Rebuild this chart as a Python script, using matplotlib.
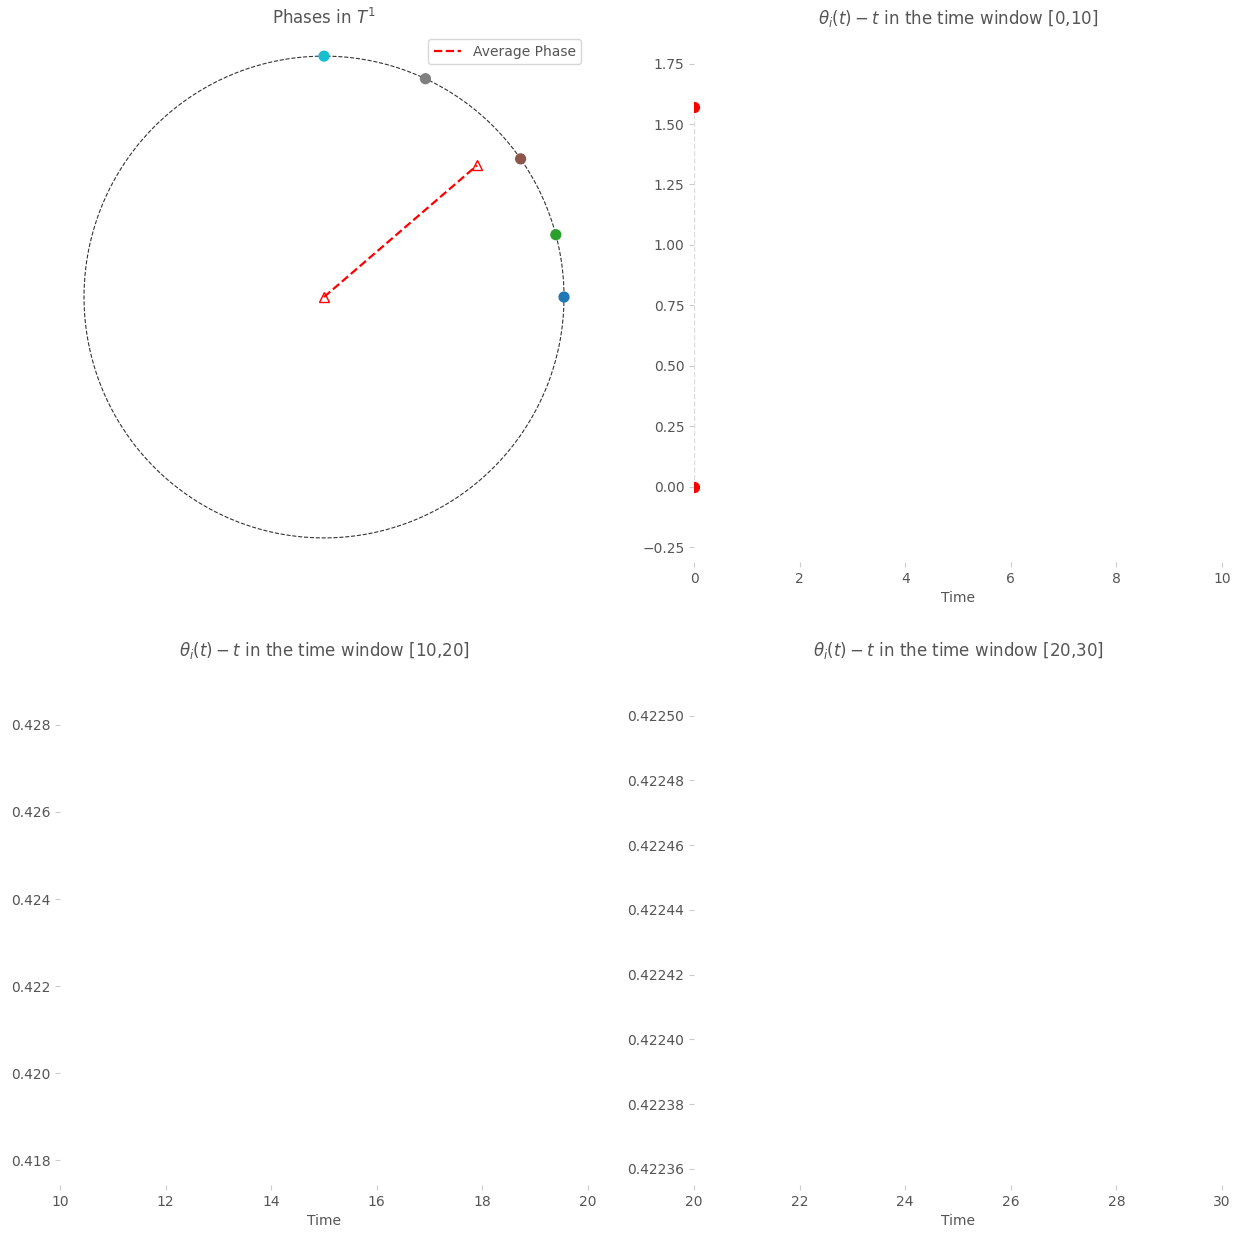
import numpy as np
import matplotlib.pyplot as plt

# phases of the five oscillators (radians) and their colours
phases = np.deg2rad([0, 15, 35, 65, 90])
phase_colors = ["#1f77b4", "#2ca02c", "#8c564b", "#7f7f7f", "#17becf"]
avg_angle = np.deg2rad(40.6)
avg_radius = 0.84

# first window: initial values at t=0
t0_times = [0, 0]
t0_values = [0.0, 1.5708]

windows = [(0, 10), (10, 20), (20, 30)]
ylims = [(-0.31, 1.88), (0.41743, 0.4294), (0.422355, 0.422516)]

txt = "#555555"
plt.rcParams.update({"text.color": txt, "axes.labelcolor": txt,
                     "xtick.color": "#cccccc", "ytick.color": "#cccccc",
                     "xtick.labelcolor": txt, "ytick.labelcolor": txt,
                     "font.size": 10})

fig = plt.figure(figsize=(12.4, 12.42), dpi=100)
L, R, W = 0.0484, 0.5597, 0.4258
top_b, top_h = 0.5475, 0.4267
bot_b, bot_h = 0.0459, 0.4195

# circle panel
ax = fig.add_axes([L, top_b, W, top_h])
th = np.linspace(0, 2 * np.pi, 400)
ax.plot(np.cos(th), np.sin(th), "k--", lw=0.8, alpha=0.8)
ax.scatter(np.cos(phases), np.sin(phases), c=phase_colors, s=50, zorder=3)
ax.plot([0, avg_radius * np.cos(avg_angle)], [0, avg_radius * np.sin(avg_angle)],
        "r--", lw=1.6, label="Average Phase")
ax.plot([0, avg_radius * np.cos(avg_angle)], [0, avg_radius * np.sin(avg_angle)],
        "r^", mfc="none", ms=7, ls="none")
ax.set_xlim(-1.1, 1.1)
ax.set_ylim(-1.1, 1.1)
ax.set_xticks([])
ax.set_yticks([])
for s in ax.spines.values():
    s.set_visible(False)
ax.set_title(r"Phases in $T^1$", color=txt)
ax.legend(loc="upper right", fontsize=10)

positions = [[R, top_b, W, top_h], [L, bot_b, W, bot_h], [R, bot_b, W, bot_h]]
for i, ((a, b), yl, pos) in enumerate(zip(windows, ylims, positions)):
    axw = fig.add_axes(pos)
    if i == 0:
        axw.plot([0, 0], [0, 1.5708], ls="--", color="#dddddd", lw=1)
        axw.scatter(t0_times, t0_values, color="red", s=50, zorder=3, clip_on=True)
    axw.set_xlim(a, b)
    axw.set_ylim(*yl)
    axw.set_xticks(np.arange(a, b + 1, 2))
    if i == 1:
        yt = np.arange(0.418, 0.4281, 0.002)
        axw.set_yticks(yt)
        axw.set_yticklabels([f"{v:.3f}" for v in yt])
    if i == 2:
        yt = np.arange(0.42236, 0.422501, 0.00002)
        axw.set_yticks(yt)
        axw.set_yticklabels([f"{v:.5f}" for v in yt])
    for s in axw.spines.values():
        s.set_visible(False)
    axw.set_xlabel("Time")
    axw.set_title(rf"$\theta_i(t) - t$ in the time window [{a},{b}]", color=txt)

fig.savefig("out.png", dpi=100, facecolor="white")
